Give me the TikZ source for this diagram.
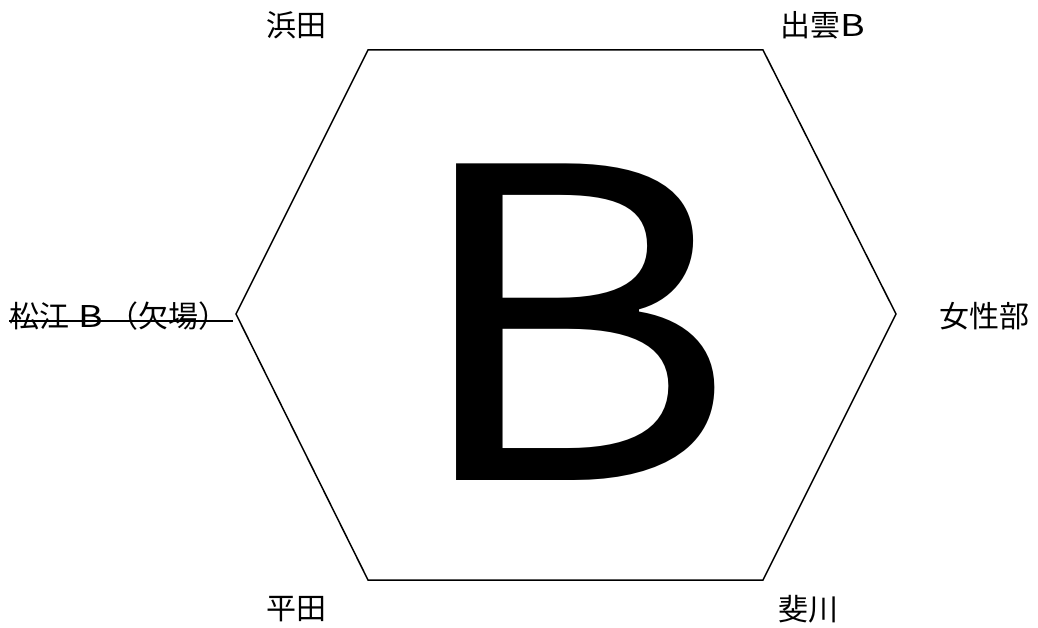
\documentclass[tikz,border=0pt]{standalone}
\usepackage{fontspec}
\setmainfont{Noto Sans CJK JP}
\usetikzlibrary{positioning}

\newcommand{\wideB}{\scalebox{1.25}[1]{B}}
\tikzset{
  team/.style={inner sep=0pt, font=\fontsize{30}{30}\selectfont},
  edge/.style={line width=1.5pt, line join=miter},
  strike/.style={line width=2pt}
}

\begin{document}
\begin{tikzpicture}[x=1pt, y=-1pt]
  \useasboundingbox (0,0) rectangle (1038,628);
  % hexagon corners
  \coordinate (tl) at (368,50);
  \coordinate (tr) at (763,50);
  \coordinate (r)  at (896,314);
  \coordinate (br) at (763,580);
  \coordinate (bl) at (368,580);
  \coordinate (l)  at (236,314);
  \draw[edge] (tl) -- (tr) -- (r) -- (br) -- (bl) -- (l) -- cycle;
  % group letter
  \node[inner sep=0pt, font=\fontsize{432}{432}\selectfont] (grp) at (572,322) {\scalebox{1.17}[1]{B}};
  % teams
  \node[team] (hamada) at (296,25)  {浜田};
  \node[team] (izumo)  at (823,25)  {出雲\wideB};
  \node[team] (josei)  at (984,316) {女性部};
  \node[team] (hirata) at (296,609) {平田};
  \node[team] (hikawa) at (808,609) {斐川};
  \node[team, anchor=west] (matsue) at (9,316) {松江\hspace{9pt}\wideB\hspace{6pt}（欠場）};
  % withdrawn
  \coordinate (cut) at (233,321);
  \draw[strike] (matsue.west |- cut) -- (cut);
\end{tikzpicture}
\end{document}
